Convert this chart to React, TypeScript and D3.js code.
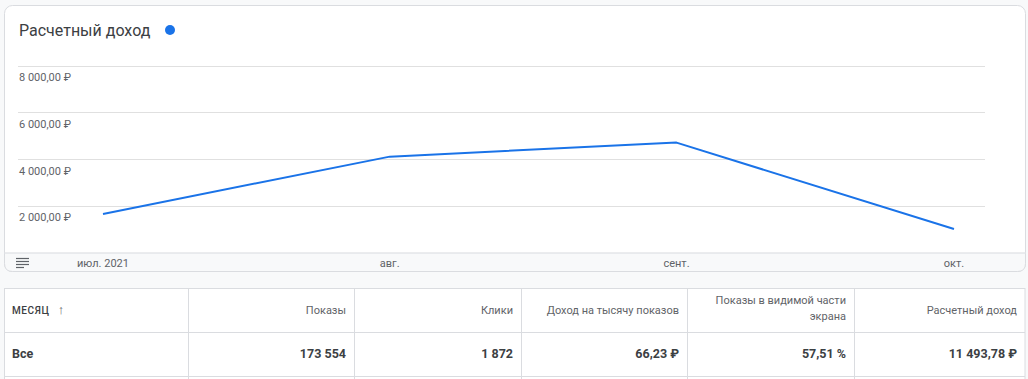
import React from "react";
import * as d3 from "d3";

const months = ["2021-07-01", "2021-08-01", "2021-09-01", "2021-10-01"];
const monthLabels = ["июл. 2021", "авг.", "сент.", "окт."];
const revenue = [1660, 4110, 4710, 1014];
const yTicks = [2000, 4000, 6000, 8000];

const tableHeaders = ["МЕСЯЦ", "Показы", "Клики", "Доход на тысячу показов", "Показы в видимой части|экрана", "Расчетный доход"];
const tableRow = ["Все", "173 554", "1 872", "66,23 ₽", "57,51 %", "11 493,78 ₽"];
const colEdges = [4, 188, 354, 521, 687, 854, 1025];

const W = 1028;
const H = 379;
const FONT = "Roboto, 'Noto Sans', Arial, sans-serif";

const locale = d3.formatLocale({ decimal: ",", thousands: "\u00a0", grouping: [3], currency: ["", " ₽"] });
const fmt = locale.format("$,.2f");

export default function App() {
  const parse = d3.timeParse("%Y-%m-%d");
  const dates = months.map((m) => parse(m) as Date);
  const x = d3.scaleTime().domain([dates[0], dates[dates.length - 1]]).range([103, 954]);
  const y = d3.scaleLinear().domain([0, 8000]).range([252.7, 65.7]);
  const line = d3
    .line<number>()
    .x((_, i) => x(dates[i]))
    .y((d) => y(d));

  const cardL = 4.5, cardT = 5.5, cardR = 1025.5, cardB = 271.5, r = 8;
  const footTop = 253;

  return (
    <svg width={W} height={H} style={{ position: "absolute", left: 0, top: 0, fontFamily: FONT }}>
      <rect x={0} y={0} width={W} height={H} fill="#f8f9fa" />
      {/* card */}
      <rect x={cardL} y={cardT} width={cardR - cardL} height={cardB - cardT} rx={r} ry={r} fill="#ffffff" stroke="#dadce0" />
      <path
        d={`M${cardL},${footTop} H${cardR} V${cardB - r} Q${cardR},${cardB} ${cardR - r},${cardB} H${cardL + r} Q${cardL},${cardB} ${cardL},${cardB - r} Z`}
        fill="#f8f9fa"
        stroke="#dadce0"
      />
      <line x1={cardL} x2={cardR} y1={footTop} y2={footTop} stroke="#e8eaed" />
      {/* title */}
      <text x={19} y={35.5} fontSize={16} fill="#3c4043">Расчетный доход</text>
      <circle cx={170} cy={30} r={5} fill="#1a73e8" />
      {/* grid */}
      {yTicks.map((t) => (
        <g key={t}>
          <line x1={18} x2={985} y1={Math.round(y(t)) + 0.5} y2={Math.round(y(t)) + 0.5} stroke="#e0e0e0" />
          <text x={19} y={y(t) + 15.5} fontSize={11} fill="#5f6368">{fmt(t)}</text>
        </g>
      ))}
      {/* line */}
      <path d={line(revenue) || ""} fill="none" stroke="#1a73e8" strokeWidth={2} strokeLinejoin="round" />
      {/* x labels */}
      {dates.map((d, i) => (
        <text key={i} x={x(d)} y={267} fontSize={11} fill="#5f6368" textAnchor="middle">{monthLabels[i]}</text>
      ))}
      {/* icon */}
      {[0, 3, 6, 9].map((o, i) => (
        <line key={i} x1={16} x2={i === 3 ? 24 : 29} y1={258.5 + o} y2={258.5 + o} stroke="#5f6368" strokeWidth={1.2} />
      ))}
      {/* table */}
      <rect x={4.5} y={288.5} width={1020.5} height={H} fill="#ffffff" stroke="#dadce0" />
      <line x1={4} x2={1025} y1={332.5} y2={332.5} stroke="#dadce0" />
      <line x1={4} x2={1025} y1={376.5} y2={376.5} stroke="#dadce0" />
      {colEdges.slice(1, -1).map((cx) => (
        <line key={cx} x1={cx + 0.5} x2={cx + 0.5} y1={288} y2={H} stroke="#dadce0" />
      ))}
      {tableHeaders.map((h, i) => {
        if (i === 0) {
          return (
            <g key={i}>
              <text x={12} y={314} fontSize={10} fontWeight={500} fill="#3c4043" letterSpacing={0.6}>{h}</text>
              <text x={61} y={314} fontSize={13} fill="#5f6368" textAnchor="middle">↑</text>
            </g>
          );
        }
        const parts = h.split("|");
        const xr = colEdges[i + 1] - 8;
        if (parts.length > 1) {
          return (
            <text key={i} x={xr} fontSize={11} fill="#5f6368" textAnchor="end">
              <tspan x={xr} y={304}>{parts[0]}</tspan>
              <tspan x={xr} y={320}>{parts[1]}</tspan>
            </text>
          );
        }
        return (
          <text key={i} x={xr} y={314} fontSize={11} fill="#5f6368" textAnchor="end">{h}</text>
        );
      })}
      {tableRow.map((v, i) => (
        <text
          key={i}
          x={i === 0 ? 12 : colEdges[i + 1] - 8}
          y={358}
          fontSize={12.5}
          fontWeight={700}
          fill="#3c4043"
          textAnchor={i === 0 ? "start" : "end"}
        >
          {v}
        </text>
      ))}
    </svg>
  );
}
